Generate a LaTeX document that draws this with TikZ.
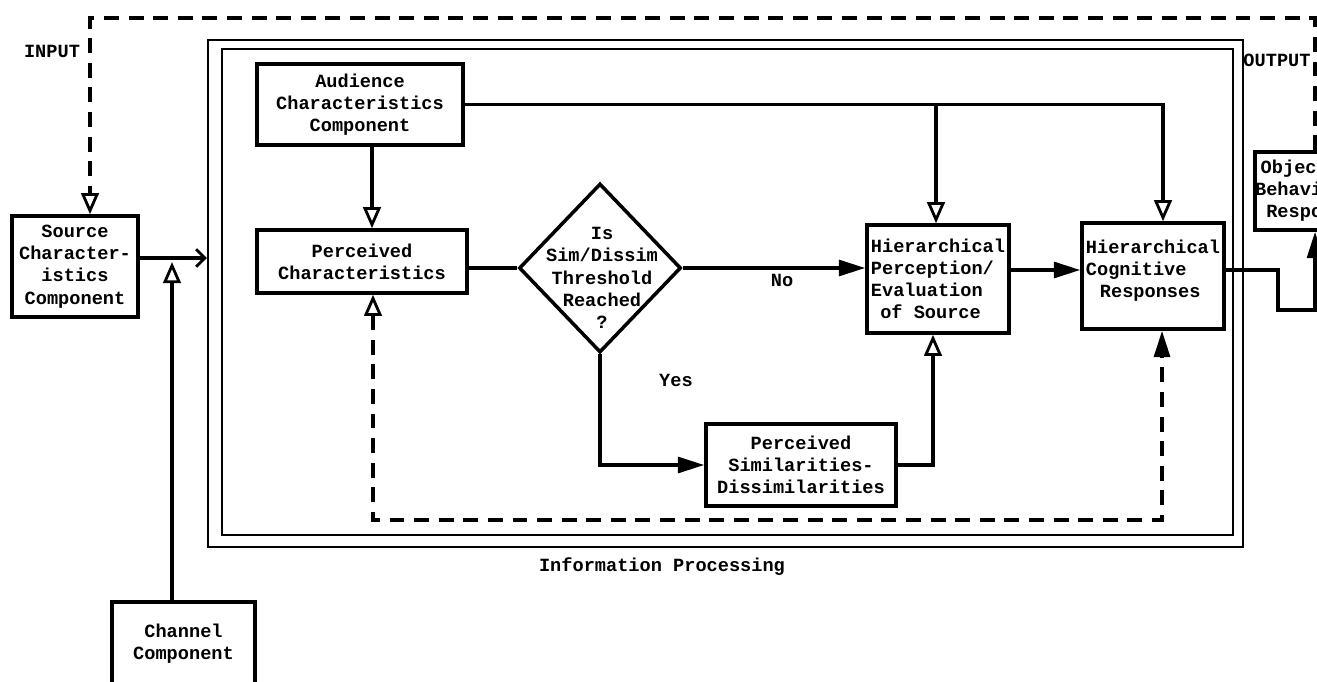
\documentclass[tikz,border=0pt]{standalone}
\usepackage{fontspec}
\setmainfont{Liberation Mono}
\usetikzlibrary{arrows.meta,shapes.geometric,calc}
\begin{document}
\begin{tikzpicture}[x=0.02cm,y=-0.02cm,
  txt/.style={font=\bfseries\fontsize{10.6}{12.6}\selectfont,align=center,inner sep=0pt},
  box/.style={txt,draw,rectangle,line width=2pt},
  frame/.style={draw,rectangle,line width=1.4pt},
  link/.style={line width=2pt},
  fb/.style={line width=2.1pt,dash pattern=on 8.5pt off 5.5pt},
  openhead/.style={-{Triangle[open,length=12pt,width=10pt,line width=1.6pt]}},
  fillhead/.style={-{Triangle[length=15pt,width=9pt]}},
  barbhead/.style={-{Straight Barb[length=5pt,width=10pt,line width=1.6pt]}}]

\useasboundingbox (0,0) rectangle (1317,682);
\clip (0,0) rectangle (1317,682);

% information-processing double frame
\node[frame,minimum width=20.7cm,minimum height=10.14cm] (outer) at (725.5,293.5) {};
\node[frame,minimum width=20.22cm,minimum height=9.72cm] (inner) at (727.5,292) {};
\node[txt] (iplabel) at (662,567) {Information Processing};

% components
\node[box,minimum width=2.52cm,minimum height=2.02cm] (src) at (75,266.5)
  {Source\\Character-\\istics\\Component};
\node[box,minimum width=2.86cm,minimum height=1.68cm] (chan) at (183.5,644)
  {Channel\\Component};
\node[box,minimum width=4.12cm,minimum height=1.62cm] (aud) at (360,104.5)
  {Audience\\Characteristics\\Component};
\node[box,minimum width=4.2cm,minimum height=1.26cm] (pc) at (362,261.5)
  {Perceived\\Characteristics};
\node[draw,diamond,line width=2pt,minimum width=3.24cm,minimum height=3.38cm,inner sep=0pt] (dia) at (600,268) {};
\node[txt] (diatext) at (602,278) {Is\\Sim/Dissim\\Threshold\\Reached\\?};
\node[box,align=left,minimum width=2.84cm,minimum height=2.16cm] (hpe) at (938,279)
  {Hierarchical\\Perception/\\Evaluation\\\hspace*{0.5em}of Source};
\node[box,align=left,minimum width=2.84cm,minimum height=2.12cm] (hcr) at (1153,276)
  {Hierarchical\\Cognitive\\\hspace*{0.75em}Responses\\[-4.6pt]};
\node[box,minimum width=3.8cm,minimum height=1.64cm] (psd) at (801,465)
  {Perceived\\Similarities-\\Dissimilarities};
\node[box,minimum width=2.24cm,minimum height=1.56cm] (obj) at (1311,191)
  {Objective\\Behavioral\\Response};

% labels
\node[txt] (inlabel) at (52,51) {INPUT};
\node[txt] (outlabel) at (1277,60) {OUTPUT};
\node[txt] (nolabel) at (782,280) {No};
\node[txt] (yeslabel) at (676,380) {Yes};

% helper points
\coordinate (s1) at ($(src.east)+(0,-8.5)$);
\coordinate (chtip) at (172,262);
\coordinate (j1) at (936,104.5);
\coordinate (h1) at ($(hpe.east)+(0,-9)$);
\coordinate (r1) at ($(hcr.east)+(0,-6)$);
\coordinate (r2) at (1278,270);
\coordinate (r3) at (1278,310);
\coordinate (r4) at (1315,310);
\coordinate (t1) at (1315,18);
\coordinate (t2) at (90,18);
\coordinate (d1) at (373,520);
\coordinate (d2) at (1162,520);

% input feedback loop
\draw[fb,openhead] ($(obj.north)+(4,0)$) -- (t1) -- (t2) -- ($(src.north)+(15,0)$);

% source and channel into the frame
\draw[link,barbhead] (s1) -- (s1 -| outer.west);
\draw[link,openhead] ($(chan.north)+(-11.5,0)$) -- (chtip);

% audience characteristics
\draw[link,openhead] ($(aud.south)+(12,0)$) -- ($(pc.north)+(10,0)$);
\draw[link,openhead] (aud.east) -| ($(hcr.north)+(10,0)$);
\draw[link,openhead] (j1) -- ($(hpe.north)+(-2,0)$);

% decision flow
\draw[link] (pc.east |- dia.west) -- (dia.west);
\draw[link,fillhead] (dia.east) -- (dia.east -| hpe.west);
\draw[link,fillhead] (dia.south) |- (psd.west);
\draw[link,openhead] (psd.east) -| ($(hpe.south)+(-5,0)$);
\draw[link,fillhead] (h1) -- (h1 -| hcr.west);

% output
\draw[link,fillhead] (r1) -- (r2) -- (r3) -- (r4) -- ($(obj.south)+(4,0)$);

% internal feedback
\draw[fb,{Triangle[open,length=12pt,width=10pt,line width=1.6pt]}-{Triangle[length=15pt,width=9pt]}]
  ($(pc.south)+(11,0)$) -- (d1) -- (d2) -- ($(hcr.south)+(9,0)$);
\end{tikzpicture}
\end{document}
